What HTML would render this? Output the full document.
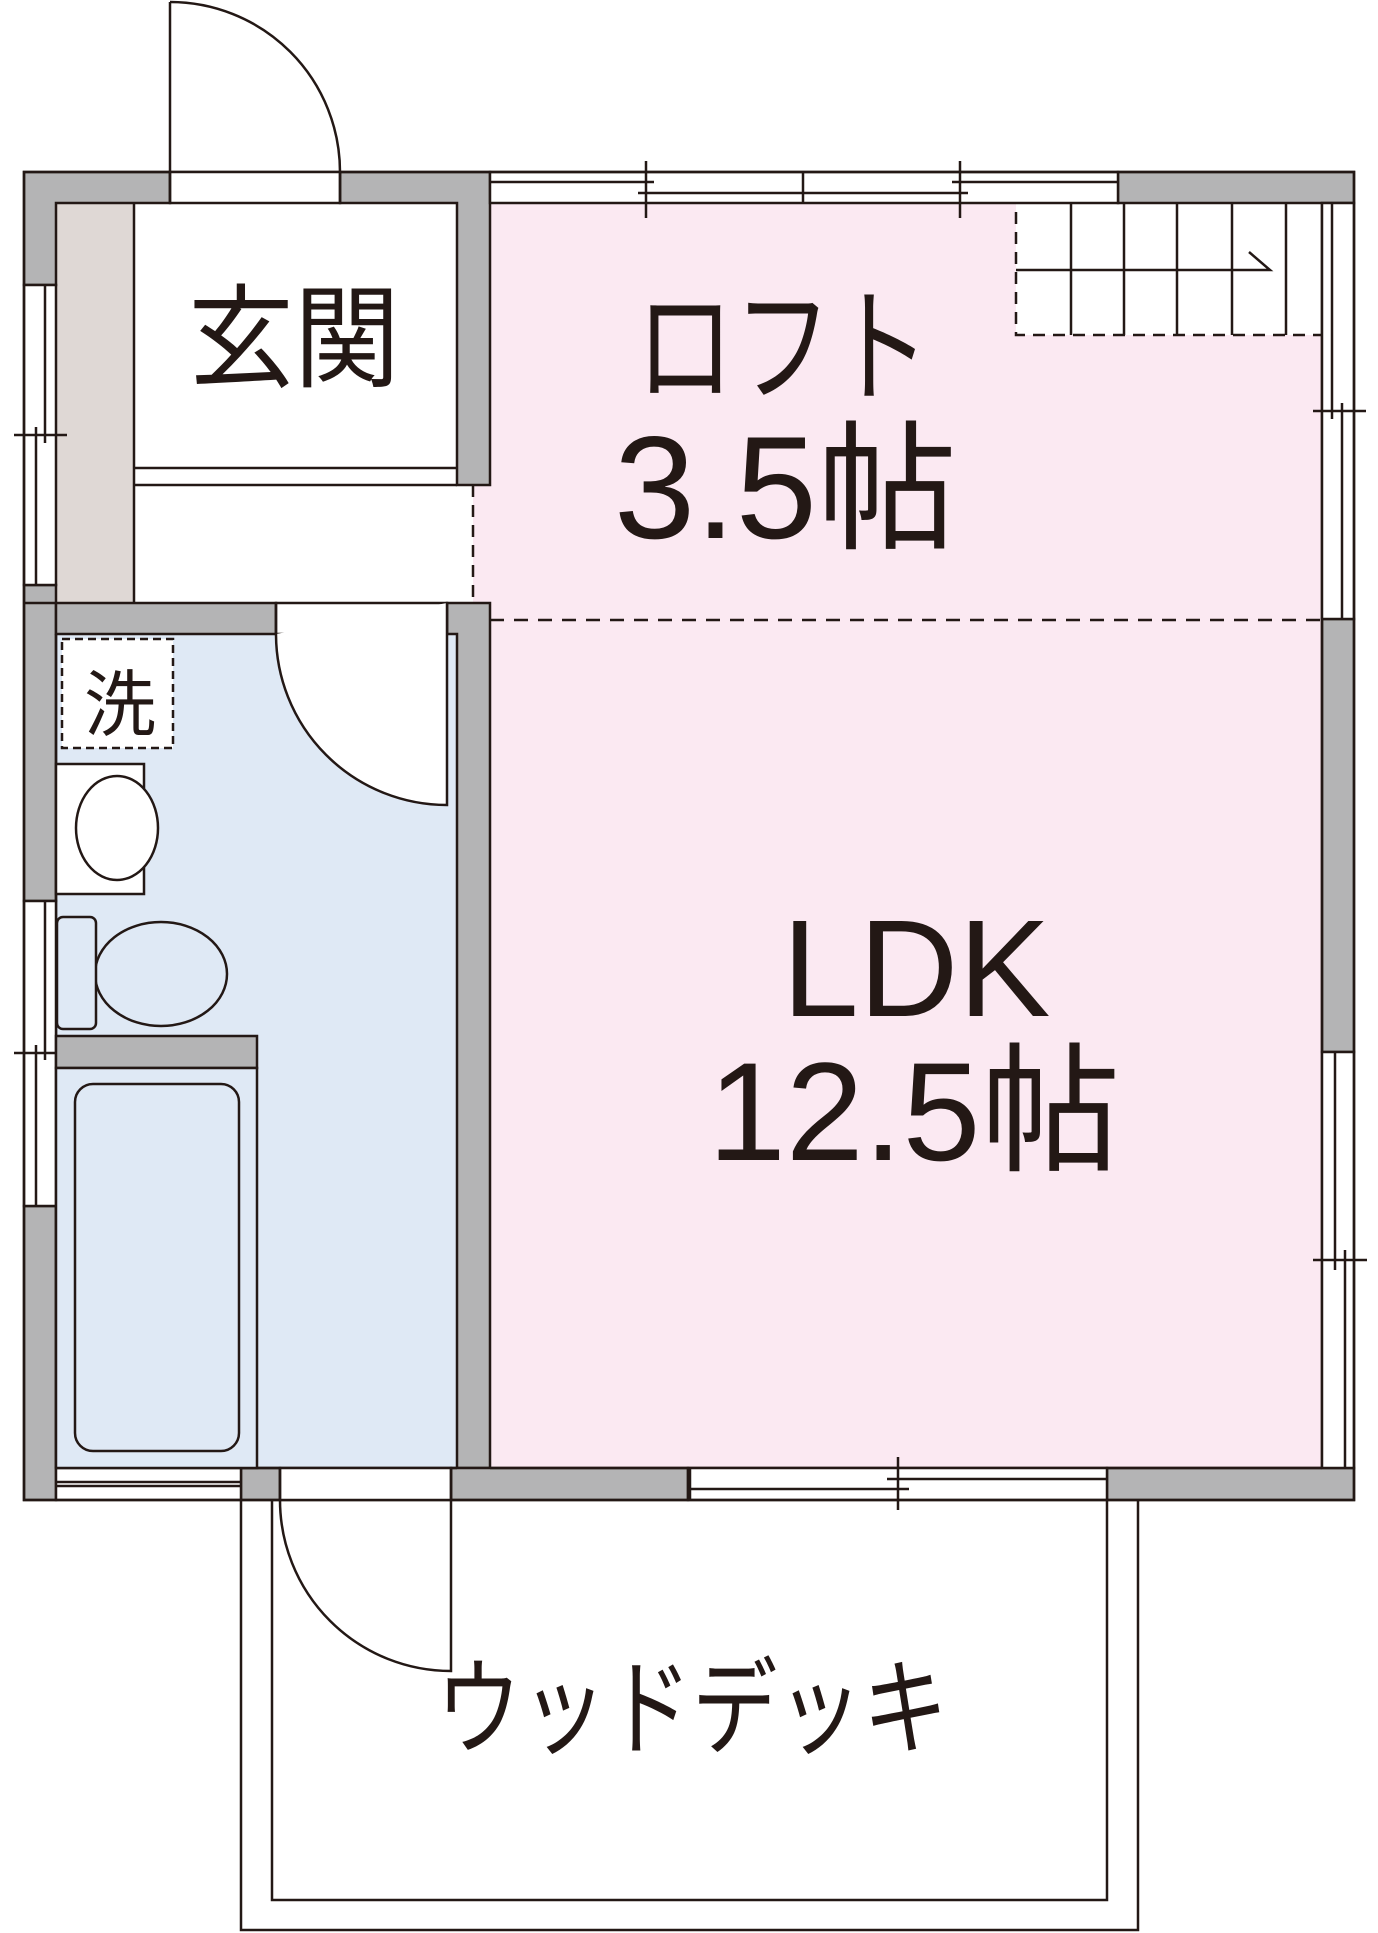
<!DOCTYPE html>
<html><head><meta charset="utf-8"><style>html,body{margin:0;padding:0;background:#fff}svg{display:block}</style></head>
<body>
<svg width="1378" height="1933" viewBox="0 0 1378 1933" xmlns="http://www.w3.org/2000/svg">
<g stroke="#231815" stroke-width="2.5" fill="none">
<rect x="490" y="203" width="832" height="416" fill="#fbe9f2" stroke="none"/>
<rect x="473" y="485" width="17" height="118" fill="#fbe9f2" stroke="none"/>
<rect x="1016" y="203" width="306" height="132" fill="#fff" stroke="none"/>
<rect x="490" y="619" width="832" height="849" fill="#fbe9f2" stroke="none"/>
<rect x="57" y="634" width="400" height="834" fill="#dfe9f5" stroke="none"/>
<rect x="56" y="203" width="78" height="400" fill="#dfd8d5" stroke="none"/>
<line x1="134" y1="203" x2="134" y2="603"/>
<line x1="134" y1="468" x2="457" y2="468"/>
<line x1="134" y1="485" x2="457" y2="485"/>
<line x1="473" y1="485" x2="473" y2="603" stroke-dasharray="12,8"/>
<line x1="490" y1="620" x2="1322" y2="620" stroke-dasharray="14,10"/>

<g fill="#b4b4b5">
<path d="M24,172 H170 V203 H56 V285 H24 Z"/>
<path d="M340,172 H490 V485 H457 V203 H340 Z"/>
<rect x="1118" y="172" width="236" height="31"/>
<rect x="24" y="585" width="32" height="316"/>
<rect x="24" y="1206" width="32" height="294"/>
<path d="M24,603 H276 V634 H56 V603"/>
<path d="M447,603 H490 V1468 H457 V634 H447 Z"/>
<rect x="1322" y="619" width="32" height="433"/>
<rect x="241" y="1468" width="39" height="32"/>
<rect x="451" y="1468" width="237" height="32"/>
<rect x="1107" y="1468" width="247" height="32"/>
</g>
<line x1="56" y1="1468" x2="457" y2="1468"/>
<line x1="490" y1="1468" x2="1322" y2="1468"/>
<line x1="56" y1="634" x2="56" y2="1468"/>
<line x1="1322" y1="203" x2="1322" y2="1468"/>

<rect x="490" y="172" width="628" height="31" fill="#fff"/>
<line x1="490" y1="182" x2="654" y2="182"/><line x1="638" y1="193" x2="968" y2="193"/>
<line x1="952" y1="182" x2="1118" y2="182"/><line x1="803" y1="172" x2="803" y2="203"/>
<line x1="646" y1="161" x2="646" y2="218"/><line x1="960" y1="161" x2="960" y2="218"/>
<rect x="24" y="285" width="32" height="300" fill="#fff"/>
<line x1="45" y1="285" x2="45" y2="443"/><line x1="36" y1="427" x2="36" y2="585"/>
<line x1="14" y1="435" x2="67" y2="435"/>
<rect x="24" y="901" width="32" height="305" fill="#fff"/>
<line x1="45" y1="901" x2="45" y2="1060"/><line x1="36" y1="1045" x2="36" y2="1206"/>
<line x1="14" y1="1053" x2="67" y2="1053"/>
<rect x="1322" y="203" width="32" height="416" fill="#fff"/>
<line x1="1332" y1="203" x2="1332" y2="419"/><line x1="1342" y1="403" x2="1342" y2="619"/>
<line x1="1313" y1="411" x2="1366" y2="411"/>
<rect x="1322" y="1052" width="32" height="416" fill="#fff"/>
<line x1="1335" y1="1052" x2="1335" y2="1270"/><line x1="1345" y1="1250" x2="1345" y2="1468"/>
<line x1="1313" y1="1260" x2="1367" y2="1260"/>
<rect x="56" y="1468" width="185" height="32" fill="#fff"/>
<line x1="56" y1="1482" x2="241" y2="1482"/><line x1="56" y1="1486" x2="241" y2="1486"/>
<rect x="688" y="1468" width="419" height="32" fill="#fff"/>
<line x1="690" y1="1468" x2="690" y2="1500"/>
<line x1="887" y1="1479" x2="1107" y2="1479"/><line x1="688" y1="1489" x2="909" y2="1489"/>
<line x1="898" y1="1457" x2="898" y2="1510"/>

<rect x="24" y="172" width="1330" height="1328"/>

<rect x="170" y="172" width="170" height="31" fill="#fff"/>
<line x1="170" y1="2" x2="170" y2="203"/>
<line x1="340" y1="172" x2="340" y2="203"/>
<path d="M170,2 A170,170 0 0 1 340,172"/>
<rect x="276" y="603" width="171" height="31" fill="#fff"/>
<path d="M276,634 A171,171 0 0 0 447,805 V603" fill="#fff"/>
<line x1="276" y1="603" x2="276" y2="634"/>
<rect x="280" y="1468" width="171" height="32" fill="#fff"/>
<line x1="280" y1="1468" x2="280" y2="1500"/>
<path d="M280,1500 A171,171 0 0 0 451,1671 V1468"/>

<path d="M241,1500 V1930 H1138 V1500"/>
<path d="M272,1500 V1900 H1107 V1500"/>

<path d="M1016,212 V335 H1322" stroke-dasharray="12,8"/>
<g>
<line x1="1071" y1="203" x2="1071" y2="335"/><line x1="1124" y1="203" x2="1124" y2="335"/>
<line x1="1177" y1="203" x2="1177" y2="335"/><line x1="1232" y1="203" x2="1232" y2="335"/>
<line x1="1286" y1="203" x2="1286" y2="335"/>
<polyline points="1016,270 1270,270 1249,252"/>
</g>

<rect x="62" y="639" width="111" height="109" stroke-dasharray="8,5" fill="#fff"/>
<rect x="56" y="764" width="88" height="130" fill="#fff"/>
<ellipse cx="117" cy="828" rx="41" ry="52" fill="#fff"/>
<ellipse cx="161" cy="974" rx="66" ry="52" fill="#dfe9f5"/>
<rect x="57" y="917" width="39" height="112" rx="6" fill="#dfe9f5"/>
<rect x="56" y="1036" width="201" height="32" fill="#b4b4b5"/>
<rect x="56" y="1068" width="201" height="400" fill="#dfe9f5"/>
<rect x="75" y="1084" width="164" height="367" rx="18"/>
</g>

<g fill="#231815" font-family="'Liberation Sans','Noto Sans CJK JP',sans-serif">
<text x="188" y="378" font-size="112" textLength="212" lengthAdjust="spacingAndGlyphs">玄関</text>
<text x="84" y="730" font-size="72">洗</text>
<text x="636" y="392" font-size="126" textLength="294" lengthAdjust="spacingAndGlyphs">ロフト</text>
<text x="614" y="538" font-size="146">3.5<tspan font-size="140">帖</tspan></text>
<text x="782" y="1016" font-size="138">LDK</text>
<text x="708" y="1160" font-size="140">12.5<tspan>帖</tspan></text>
<text x="436" y="1746" font-size="106" textLength="512" lengthAdjust="spacingAndGlyphs">ウッドデッキ</text>
</g>
</svg>
</body></html>
